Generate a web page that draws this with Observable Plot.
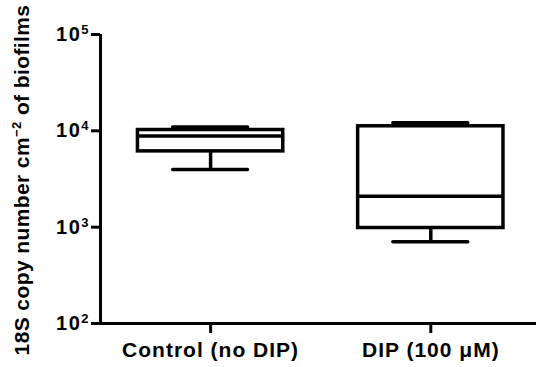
<!DOCTYPE html>
<html>
<head>
<meta charset="utf-8">
<script src="https://cdn.jsdelivr.net/npm/d3@7"></script>
<script src="https://cdn.jsdelivr.net/npm/@observablehq/plot@0.6"></script>
<style>
  html, body { margin: 0; padding: 0; background: #fff; overflow: hidden; }
</style>
</head>
<body>
<div id="chart"></div>
<script>
// Data
const categories = ["Control (no DIP)", "DIP (100 μM)"];
const whiskerMin = [3970, 705];
const quartile1 = [6120, 980];
const medians = [8830, 2090];
const quartile3 = [10200, 11150];
const whiskerMax = [10950, 12100];
const yTicks = [100, 1000, 10000, 100000];
const yTitle = "18S copy number cm";
const yTitleSup = "−2";
const yTitleEnd = " of biofilms";

const boxes = categories.map((c, i) => ({
  i, c,
  min: whiskerMin[i], q1: quartile1[i], med: medians[i], q3: quartile3[i], max: whiskerMax[i]
}));

const boxHalf = 0.33, capHalf = 0.17;
const xDomain = [-0.5, 1.48];
const sw = 3.5;
const asw = 3;

const plot = Plot.plot({
  width: 536,
  height: 367,
  marginLeft: 100,
  marginRight: 0,
  marginTop: 34,
  marginBottom: 44,
  style: {fontFamily: "'Liberation Sans', Arial, sans-serif", fontSize: "20px", fontWeight: "bold", color: "#000", background: "#fff"},
  x: {type: "linear", domain: xDomain},
  y: {type: "log", domain: [100, 100000]},
  marks: [
    Plot.axisX({ticks: categories.map((c, i) => i), tickFormat: i => categories[i], tickSize: 10, tickPadding: 9, strokeWidth: asw, label: null, fontSize: 21}),
    Plot.axisY({ticks: yTicks, tickFormat: d => "10^" + Math.round(Math.log10(d)), tickSize: 9, tickPadding: 3, strokeWidth: asw, label: null, fontSize: 20}),
    Plot.ruleX([xDomain[0]], {stroke: "#000", strokeWidth: asw}),
    Plot.ruleY([yTicks[0]], {stroke: "#000", strokeWidth: asw, insetLeft: -8}),
    // whiskers
    Plot.ruleX(boxes, {x: "i", y1: "q3", y2: "max", stroke: "#000", strokeWidth: sw}),
    Plot.ruleX(boxes, {x: "i", y1: "min", y2: "q1", stroke: "#000", strokeWidth: sw}),
    // caps
    Plot.ruleY(boxes, {y: "max", x1: d => d.i - capHalf, x2: d => d.i + capHalf, stroke: "#000", strokeWidth: sw, strokeLinecap: "round"}),
    Plot.ruleY(boxes, {y: "min", x1: d => d.i - capHalf, x2: d => d.i + capHalf, stroke: "#000", strokeWidth: sw, strokeLinecap: "round"}),
    // boxes
    Plot.rect(boxes, {x1: d => d.i - boxHalf, x2: d => d.i + boxHalf, y1: "q1", y2: "q3", fill: "#fff", stroke: "#000", strokeWidth: sw}),
    // medians
    Plot.ruleY(boxes, {y: "med", x1: d => d.i - boxHalf, x2: d => d.i + boxHalf, stroke: "#000", strokeWidth: sw})
  ]
});

// x tick labels: slight letter spacing
d3.select(plot).selectAll("text").each(function() {
  if (categories.includes(this.textContent)) d3.select(this).attr("letter-spacing", "1");
});

// superscripts on y tick labels
d3.select(plot).selectAll("text").each(function() {
  const t = this.textContent;
  if (t.startsWith("10^")) {
    const sel = d3.select(this);
    const exp = t.slice(3);
    sel.text(null).attr("letter-spacing", "1.5");
    sel.append("tspan").text("10");
    sel.append("tspan").attr("dy", "-7").attr("font-size", "13px").attr("letter-spacing", "0").text(exp);
  }
});

// y-axis title with superscript
const title = d3.select(plot).append("text")
  .attr("transform", "translate(29,180) rotate(-90)")
  .attr("text-anchor", "middle")
  .attr("font-size", "21px")
  .attr("font-weight", "bold")
  .attr("letter-spacing", "0.4")
  .attr("fill", "#000");
title.append("tspan").text(yTitle);
title.append("tspan").attr("dy", "-8").attr("font-size", "13px").text(yTitleSup);
title.append("tspan").attr("dy", "8").text(yTitleEnd);

document.getElementById("chart").append(plot);
</script>
</body>
</html>
